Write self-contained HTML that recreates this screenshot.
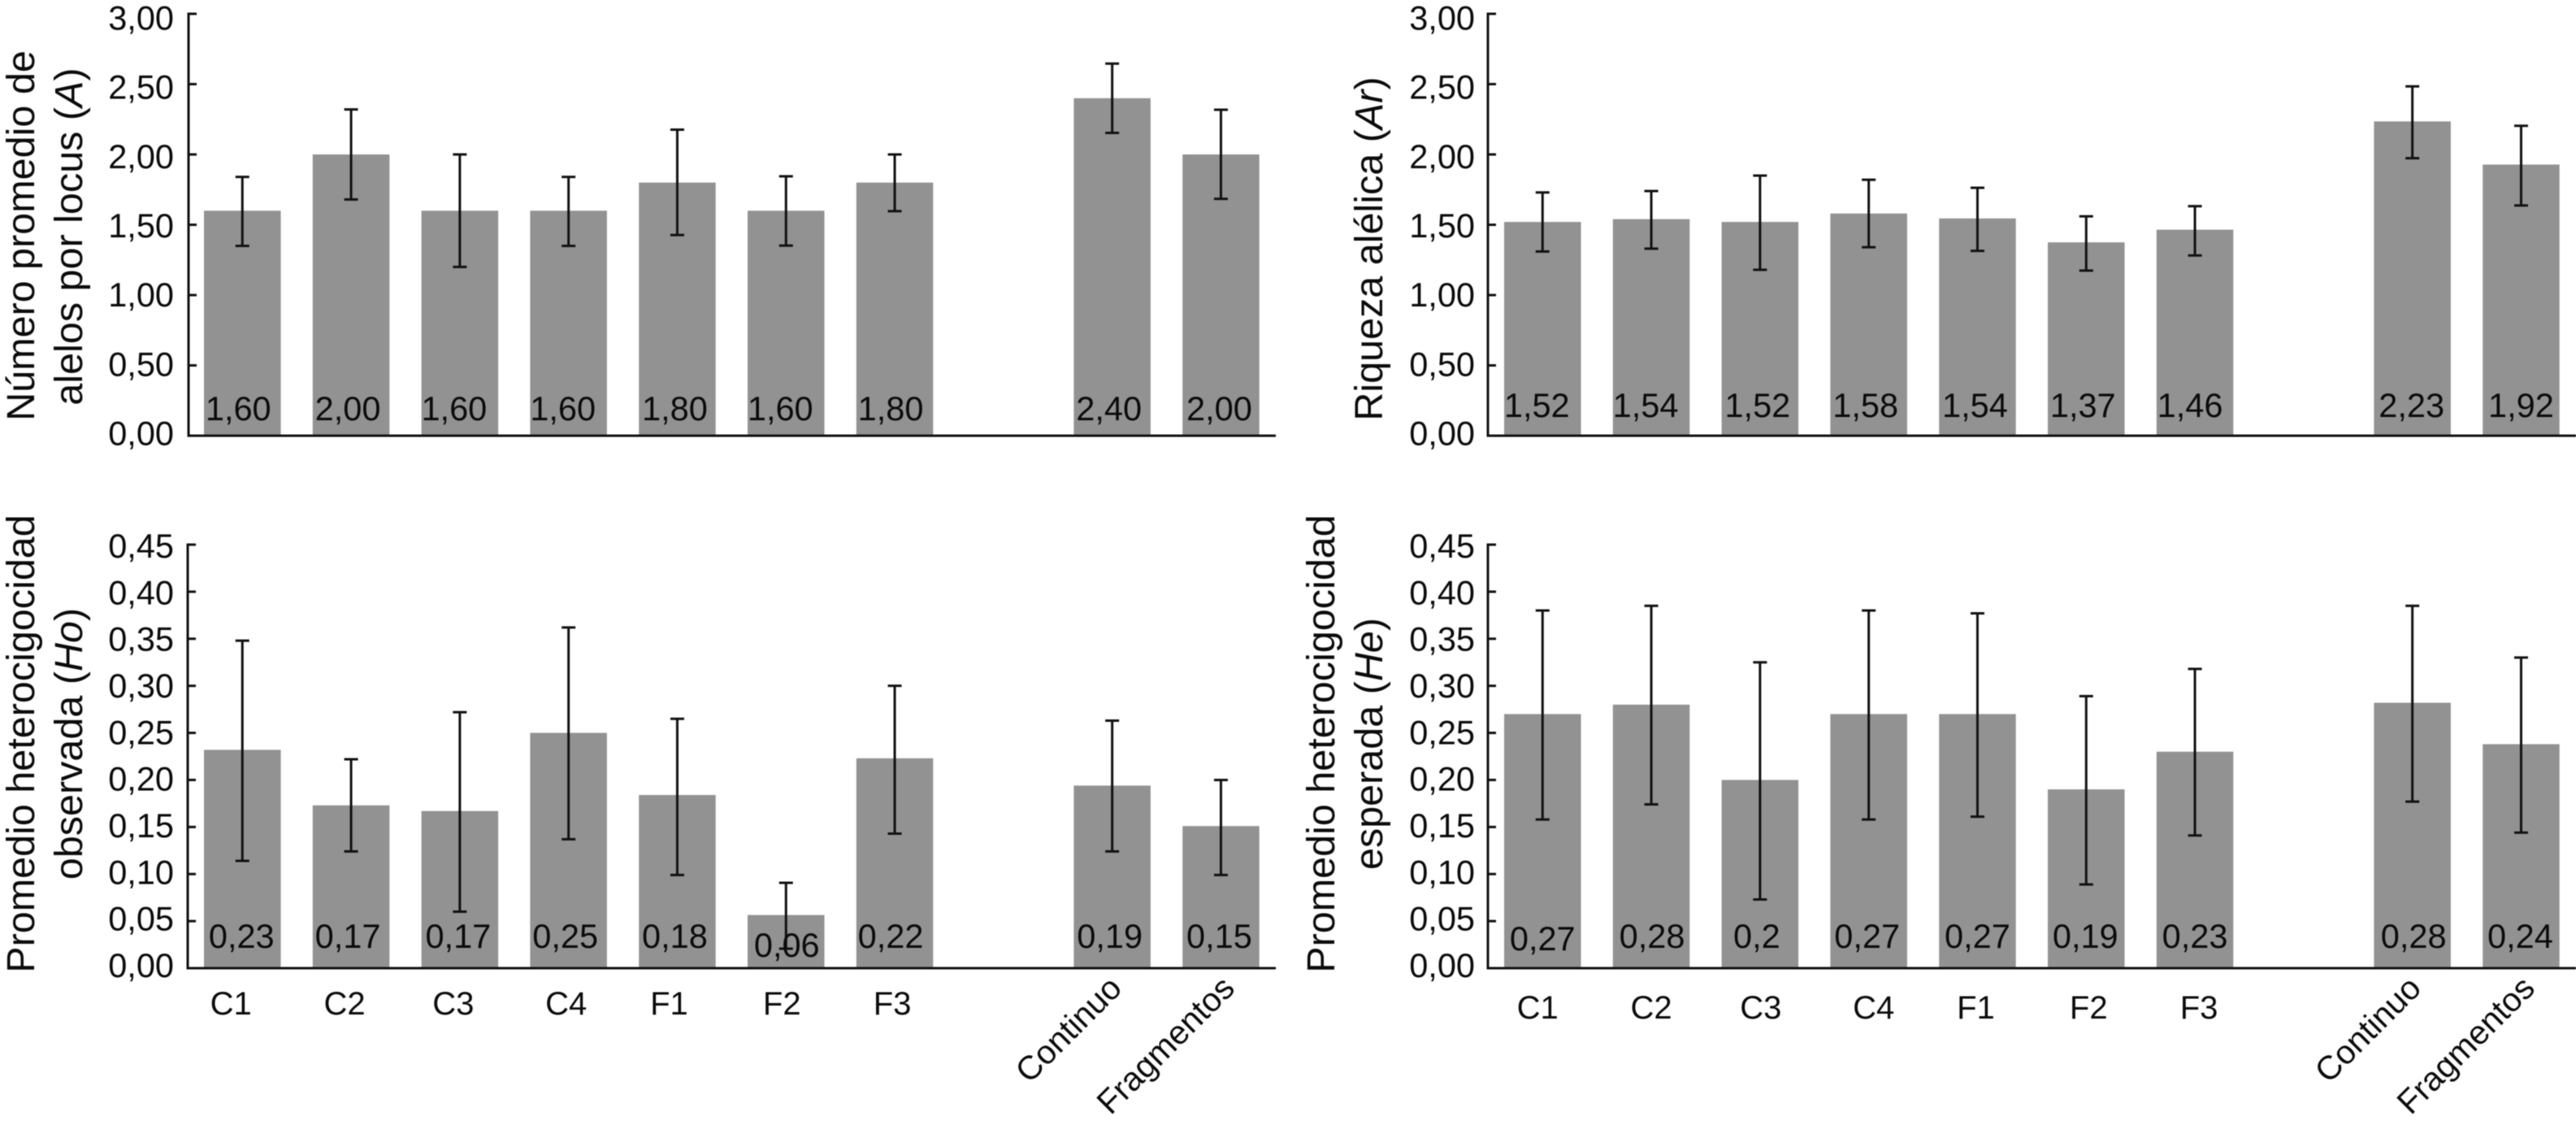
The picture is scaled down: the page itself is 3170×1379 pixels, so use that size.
<!DOCTYPE html>
<html lang="es">
<head>
<meta charset="utf-8">
<title>Diversidad genética por población</title>
<style>
html,body{margin:0;padding:0;background:#fff;}
body{width:3170px;height:1379px;overflow:hidden;}
svg{display:block;filter:blur(0.5px);}
text{font-family:"Liberation Sans",Arial,sans-serif;fill:#0b0b0b;}
</style>
</head>
<body>
<svg id="chart" xmlns="http://www.w3.org/2000/svg" width="3170" height="1379" viewBox="0 0 3170 1379">
  <g font-size="48.5">
    <text transform="translate(42,290) rotate(-90)" text-anchor="middle">Número promedio de</text>
    <text transform="translate(101,291) rotate(-90)" text-anchor="middle">alelos por locus (<tspan font-style="italic">A</tspan>)</text>
  </g>
  <g font-size="48.5">
    <text transform="translate(1701,306) rotate(-90)" text-anchor="middle">Riqueza alélica (<tspan font-style="italic">Ar</tspan>)</text>
  </g>
  <g font-size="48.5">
    <text transform="translate(42,915) rotate(-90)" text-anchor="middle">Promedio heterocigocidad</text>
    <text transform="translate(101,915) rotate(-90)" text-anchor="middle">observada (<tspan font-style="italic">Ho</tspan>)</text>
  </g>
  <g font-size="48.5">
    <text transform="translate(1642,915) rotate(-90)" text-anchor="middle">Promedio heterocigocidad</text>
    <text transform="translate(1701,915) rotate(-90)" text-anchor="middle">esperada (<tspan font-style="italic">He</tspan>)</text>
  </g>
</svg>
<script>
const categories = ["C1","C2","C3","C4","F1","F2","F3","Continuo","Fragmentos"];
const categorySlots = [0,1,2,3,4,5,6,8,9];

const ticksTop = [0,0.5,1,1.5,2,2.5,3];
const tickLabelsTop = ["0,00","0,50","1,00","1,50","2,00","2,50","3,00"];
const ticksBottom = [0,0.05,0.1,0.15,0.2,0.25,0.3,0.35,0.4,0.45];
const tickLabelsBottom = ["0,00","0,05","0,10","0,15","0,20","0,25","0,30","0,35","0,40","0,45"];

const allelesValues = [1.6,2,1.6,1.6,1.8,1.6,1.8,2.4,2];
const allelesUpper = [1.84,2.32,2,1.84,2.176,1.845,2,2.646,2.318];
const allelesLower = [1.35,1.68,1.2,1.35,1.427,1.352,1.597,2.153,1.684];
const allelesPrinted = ["1,60","2,00","1,60","1,60","1,80","1,60","1,80","2,40","2,00"];

const richnessValues = [1.52,1.54,1.52,1.58,1.545,1.375,1.465,2.235,1.928];
const richnessUpper = [1.73,1.74,1.85,1.82,1.763,1.56,1.632,2.484,2.204];
const richnessLower = [1.31,1.33,1.18,1.34,1.314,1.174,1.282,1.973,1.637];
const richnessPrinted = ["1,52","1,54","1,52","1,58","1,54","1,37","1,46","2,23","1,92"];

const observedValues = [0.232,0.173,0.167,0.25,0.184,0.0565,0.223,0.194,0.151];
const observedUpper = [0.348,0.222,0.272,0.362,0.265,0.0907,0.3,0.263,0.2];
const observedLower = [0.114,0.124,0.06,0.137,0.099,0.0207,0.143,0.124,0.099];
const observedPrinted = ["0,23","0,17","0,17","0,25","0,18","0,06","0,22","0,19","0,15"];

const expectedValues = [0.27,0.28,0.2,0.27,0.27,0.19,0.23,0.282,0.238];
const expectedUpper = [0.38,0.385,0.325,0.38,0.377,0.289,0.318,0.385,0.33];
const expectedLower = [0.158,0.174,0.073,0.158,0.161,0.089,0.141,0.177,0.144];
const expectedPrinted = ["0,27","0,28","0,2","0,27","0,27","0,19","0,23","0,28","0,24"];

const svg = document.getElementById('chart');
const NS = 'http://www.w3.org/2000/svg';

function make(tag, parent, attrs, txt) {
  const n = document.createElementNS(NS, tag);
  for (const k in attrs) n.setAttribute(k, attrs[k]);
  if (txt !== undefined) n.textContent = txt;
  parent.appendChild(n);
  return n;
}

function drawPanel(p) {
  const panel = make('g', svg, {});
  
  

  const y = v => p.zeroY - (v / p.max) * (p.zeroY - p.topY);
  const labelY = v => p.labelZero - (v / p.max) * (p.labelZero - p.labelTop);
  const barX = i => p.firstBar + categorySlots[i] * 133.8;
  const BAR = 94.5;

  p.values.forEach((v, i) => {
    const bar = make('rect', panel, {x: barX(i), y: y(v), width: BAR, height: p.zeroY - y(v), fill: '#929292'});
    
    
  });

  p.values.forEach((v, i) => {
    const cx = barX(i) + BAR / 2;
    const err = make('path', panel, {
      d: 'M' + cx + ' ' + y(p.upper[i]) + 'V' + y(p.lower[i]) +
         'M' + (cx - 8.5) + ' ' + y(p.upper[i]) + 'h17' +
         'M' + (cx - 8.5) + ' ' + y(p.lower[i]) + 'h17',
      stroke: '#111', 'stroke-width': 3, fill: 'none'
    });
    
    
  });

  p.printed.forEach((s, i) => {
    const cx = barX(i) + BAR / 2 + p.valueNudge[i];
    const t = make('text', panel, {x: cx, y: p.valueBaseline + p.valueDrop[i], 'font-size': 41.5, 'text-anchor': 'middle'}, s);
    
    
  });

  const axis = make('path', panel, {
    d: 'M' + p.axisX + ' ' + (p.topY - 1.5) + 'V' + p.zeroY + 'H' + p.axisEnd,
    stroke: '#111', 'stroke-width': 3, fill: 'none'
  });
  
  

  p.ticks.forEach((v, i) => {
    const tick = make('line', panel, {x1: p.axisX, x2: p.axisX + 10, y1: y(v), y2: y(v), stroke: '#111', 'stroke-width': 3});
    
    
    const lab = make('text', panel, {x: p.labelRight, y: labelY(v), 'font-size': 41.5, 'text-anchor': 'end'}, p.tickLabels[i]);
    
    
  });

  if (p.showCategories) {
    categories.forEach((c, i) => {
      const cx = barX(i) + BAR / 2;
      let t;
      if (categorySlots[i] < 7) {
        t = make('text', panel, {x: cx + p.catNudge[i], y: p.catBaseline, 'font-size': 40, 'text-anchor': 'middle'}, c);
      } else {
        t = make('text', panel, {'font-size': 41, 'text-anchor': 'end', transform: 'translate(' + (cx + p.rotNudge[i - 7]) + ',1218) rotate(-45)'}, c);
      }
      
      
    });
  }
}

drawPanel({name: 'panel-alleles-per-locus', firstBar: 251, axisX: 232, axisEnd: 1570, topY: 17, zeroY: 536, max: 3,
  labelRight: 214, labelZero: 547.5, labelTop: 36.5, valueBaseline: 517,
  valueNudge: [-5,-4,-7,-7,-3,-7,-5,-4,-2], valueDrop: [0,0,0,0,0,0,0,0,0],
  ticks: ticksTop, tickLabels: tickLabelsTop,
  values: allelesValues, upper: allelesUpper, lower: allelesLower, printed: allelesPrinted, showCategories: false});

drawPanel({name: 'panel-allelic-richness', firstBar: 1851, axisX: 1831, axisEnd: 3170, topY: 17, zeroY: 536, max: 3,
  labelRight: 1815, labelZero: 547.5, labelTop: 36.5, valueBaseline: 513,
  valueNudge: [-7,-7,-3,-4,-3,-4,-6,-1,0], valueDrop: [0,0,0,0,0,0,0,0,0],
  ticks: ticksTop, tickLabels: tickLabelsTop,
  values: richnessValues, upper: richnessUpper, lower: richnessLower, printed: richnessPrinted, showCategories: false});

drawPanel({name: 'panel-observed-heterozygosity', firstBar: 251, axisX: 231, axisEnd: 1570, topY: 670, zeroY: 1191, max: 0.45,
  labelRight: 214, labelZero: 1202, labelTop: 686, valueBaseline: 1166,
  valueNudge: [-1,-4,-2,-4,-3,1,-5,-3,-2], valueDrop: [0,0,0,0,0,11,0,0,0],
  ticks: ticksBottom, tickLabels: tickLabelsBottom,
  values: observedValues, upper: observedUpper, lower: observedLower, printed: observedPrinted, showCategories: true,
  catBaseline: 1248, catNudge: [-14,-8,-8,-3,-10,-5,-3], rotNudge: [14,19]});

drawPanel({name: 'panel-expected-heterozygosity', firstBar: 1851, axisX: 1831, axisEnd: 3170, topY: 670, zeroY: 1191, max: 0.45,
  labelRight: 1815, labelZero: 1202, labelTop: 686, valueBaseline: 1166,
  valueNudge: [0,1,-4,-2,0,-1,0,1.5,-1], valueDrop: [3,0,0,0,0,0,0,0,0],
  ticks: ticksBottom, tickLabels: tickLabelsBottom,
  values: expectedValues, upper: expectedUpper, lower: expectedLower, printed: expectedPrinted, showCategories: true,
  catBaseline: 1253, catNudge: [-6,0,1,6,-2,3,5], rotNudge: [13,19]});
</script>
</body>
</html>
